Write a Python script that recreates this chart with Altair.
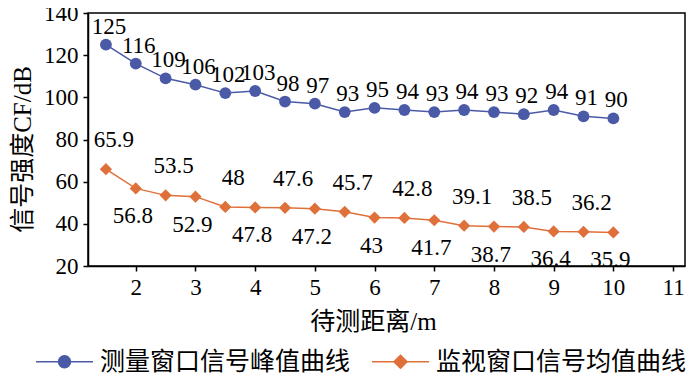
import altair as alt
import pandas as pd

distance = [1.5, 2, 2.5, 3, 3.5, 4, 4.5, 5, 5.5, 6, 6.5, 7, 7.5, 8, 8.5, 9, 9.5, 10]
peak_values = [125, 116, 109, 106, 102, 103, 98, 97, 93, 95, 94, 93, 94, 93, 92, 94, 91, 90]
mean_values = [65.9, 56.8, 53.5, 52.9, 48, 47.8, 47.6, 47.2, 45.7, 43, 42.8, 41.7, 39.1, 38.7, 38.5, 36.4, 36.2, 35.9]
series_names = ["测量窗口信号峰值曲线", "监视窗口信号均值曲线"]
x_ticks = [2, 3, 4, 5, 6, 7, 8, 9, 10, 11]
y_ticks = [20, 40, 60, 80, 100, 120, 140]

BLUE = "#4A5AA6"
ORANGE = "#E0703A"

rows = []
for i, (d, v) in enumerate(zip(distance, peak_values)):
    rows.append({"x": d, "y": v, "series": series_names[0], "label": f"{v:g}", "pos": "peak"})
for i, (d, v) in enumerate(zip(distance, mean_values)):
    rows.append({"x": d, "y": v, "series": series_names[1], "label": f"{v:g}",
                 "pos": "above" if i % 2 == 0 else "below"})
df = pd.DataFrame(rows)

SERIF = "Liberation Serif, Times New Roman, serif"
MIXED = "Liberation Serif, Noto Sans CJK SC"

color_scale = alt.Scale(domain=series_names, range=[BLUE, ORANGE])

X = alt.X("x:Q", scale=alt.Scale(domain=[1.2, 11.2], nice=False, zero=False),
          axis=alt.Axis(values=x_ticks, title="待测距离/m", titlePadding=10, titleX=285))
Y = alt.Y("y:Q", scale=alt.Scale(domain=[20, 140], nice=False, zero=False),
          axis=alt.Axis(values=y_ticks, title="信号强度CF/dB", titlePadding=8, titleY=136))

circle_path = "M-1,0L1,0M-0.21,0A0.21,0.21,0,1,1,0.21,0A0.21,0.21,0,1,1,-0.21,0Z"
diamond_path = "M-1,0L1,0M-0.23,0L0,-0.23L0.23,0L0,0.23Z"
shape_signal = f"datum.value === '{series_names[0]}' ? '{circle_path}' : '{diamond_path}'"

legend = alt.Legend(
    title=None, orient="none", legendX=-53, legendY=319, direction="horizontal",
    symbolSize=3249, symbolStrokeWidth=1.5, labelFont="Noto Sans CJK SC", labelFontSize=25,
    labelColor="black", columnPadding=18, labelOffset=6, symbolOpacity=1, labelLimit=0,
    symbolType=alt.ExprRef(expr=shape_signal),
    symbolStrokeColor=alt.ExprRef(expr="scale('color', datum.value)"),
    symbolFillColor=alt.ExprRef(expr="scale('color', datum.value)"),
)

base = alt.Chart(df)
blue_data = base.transform_filter(alt.datum.series == series_names[0])
orange_data = base.transform_filter(alt.datum.series == series_names[1])

line_blue = blue_data.mark_line(strokeWidth=1.5, color=BLUE).encode(x=X, y=Y)
line_orange = orange_data.mark_line(strokeWidth=1.5, color=ORANGE).encode(x=X, y=Y)

pts_blue = blue_data.mark_point(filled=True, shape="circle", size=140, opacity=1).encode(
    x=X, y=Y, color=alt.Color("series:N", scale=color_scale, legend=legend))
pts_orange = orange_data.mark_point(filled=True, shape="diamond", size=150, opacity=1).encode(
    x=X, y=Y, color=alt.Color("series:N", scale=color_scale, legend=legend))

text_style = dict(font=SERIF, fontSize=23, color="black", baseline="middle", align="center")
peak_text = base.transform_filter(alt.datum.pos == "peak").mark_text(dx=3, dy=-18, **text_style).encode(
    x=X, y=Y, text="label:N")
above_text = base.transform_filter(alt.datum.pos == "above").mark_text(dx=8, dy=-29, **text_style).encode(
    x=X, y=Y, text="label:N")
below_text = base.transform_filter(alt.datum.pos == "below").mark_text(dx=-3, dy=28, **text_style).encode(
    x=X, y=Y, text="label:N")

chart = alt.layer(line_blue, line_orange, pts_blue, pts_orange, peak_text, above_text, below_text).properties(
    width=597, height=253,
    autosize=alt.AutoSizeParams(type="none"),
    padding={"left": 80, "top": 5, "right": 7, "bottom": 112},
    background="white",
).configure_view(
    stroke="black", strokeWidth=1.5
).configure_axis(
    grid=False, domainColor="black", domainWidth=1.5, tickColor="black", tickWidth=1.5,
    tickSize=5, labelPadding=5,
    labelFont=SERIF, labelFontSize=23, labelColor="black",
    titleFont=MIXED, titleFontSize=25, titleFontWeight="normal", titleColor="black",
)

chart.save("out.html", embed_options={"renderer": "svg", "actions": False})
